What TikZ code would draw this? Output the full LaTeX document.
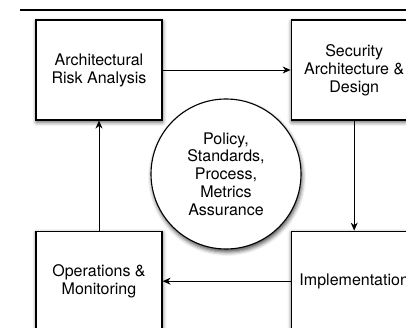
\documentclass[tikz,border=0pt]{standalone}
\usepackage{fontspec}
\setmainfont{TeX Gyre Heros}
\usetikzlibrary{arrows.meta,positioning,shadows.blur}

\begin{document}
\begin{tikzpicture}[
    x=1pt, y=-1pt,
    >=Stealth,
    stage/.style={draw, line width=1.2pt, fill=white, minimum width=126pt,
      minimum height=100pt, align=center, font=\fontsize{16}{18}\selectfont,
      blur shadow={shadow xshift=0.5pt, shadow yshift=-2pt,
        shadow blur radius=4pt, shadow opacity=70}},
    hub/.style={draw, circle, line width=1.1pt, fill=white, minimum size=150pt,
      align=center, font=\fontsize{16}{17.8}\selectfont,
      blur shadow={shadow xshift=1pt, shadow yshift=-3pt,
        shadow blur radius=4pt, shadow opacity=70}},
    arw/.style={-{Stealth[length=8pt, width=7pt]}, line width=0.9pt},
  ]
    \useasboundingbox (0,0) rectangle (406,328);
    \clip (0,0) rectangle (406,328);

    % Header rule
    \draw[line width=1.2pt] (20,10) -- (406,10);

    % Lifecycle stages
    \node[stage] (ara) at (99,70) {Architectural\\Risk Analysis};
    \node[stage, right=128pt of ara] (sad) {Security\\Architecture \&\\Design};
    \node[stage, below=110pt of sad] (impl) {Implementation};
    \node[stage, below=110pt of ara] (ops) {Operations \&\\Monitoring};

    % Central hub
    \node[hub] (hub) at (226,174) {Policy,\\Standards,\\Process,\\Metrics\\Assurance};

    % Arrows round the cycle
    \draw[arw] (ara) -- (sad);
    \draw[arw] (sad) -- (impl);
    \draw[arw] (impl) -- (ops);
    \draw[arw] (ops) -- (ara);

\end{tikzpicture}
\end{document}
